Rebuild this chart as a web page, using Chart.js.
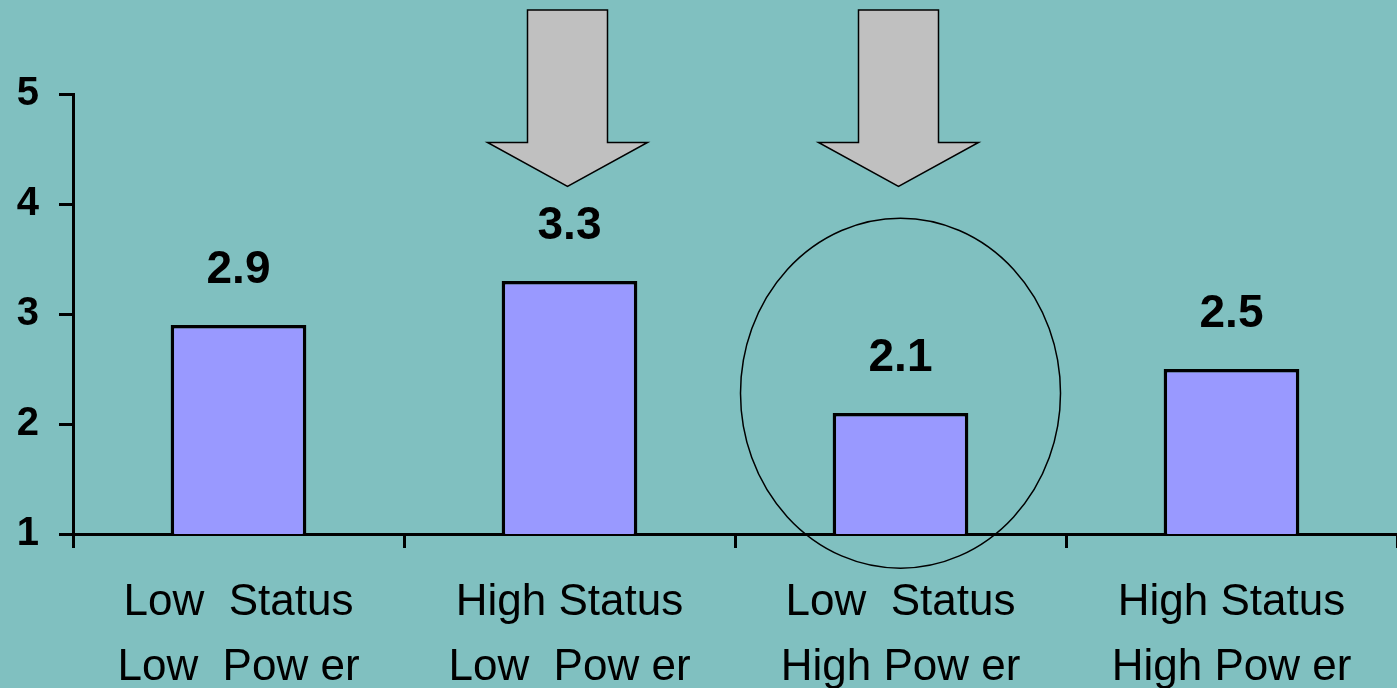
<!DOCTYPE html>
<html>
<head>
<meta charset="utf-8">
<title>Status and Power</title>
<script src="https://cdn.jsdelivr.net/npm/chart.js@4.4.1/dist/chart.umd.min.js"></script>
<style>
    html, body { margin: 0; padding: 0; background: #80c0c0; }
    #wrap { width: 1397px; height: 688px; position: relative; }
</style>
</head>
<body>
<div id="wrap"><canvas id="chart-status-power"></canvas></div>
<script>
/* ── Chart data ── */
var groupLabels = [
    ['Low  Status', 'Low  Pow er'],
    ['High Status', 'Low  Pow er'],
    ['Low  Status', 'High Pow er'],
    ['High Status', 'High Pow er']
];
var groupScores = [2.9, 3.3, 2.1, 2.5];
var yTicks = [1, 2, 3, 4, 5];

// categories that get a callout arrow / the circled one
var arrowGroups = [1, 2];
var circledGroup = 2;

var FONT = '"Liberation Sans", Arial, Helvetica, sans-serif';

/* ── Decoration plugins ── */
var backdropPlugin = {
    id: 'backdrop',
    beforeDraw: function (chart) {
        var ctx = chart.ctx;
        ctx.save();
        ctx.fillStyle = '#80c0c0';
        ctx.fillRect(0, 0, chart.width, chart.height);
        ctx.restore();
    }
};

// bold score printed above each bar
var scoreLabelPlugin = {
    id: 'scoreLabels',
    afterDatasetsDraw: function (chart) {
        var ctx = chart.ctx;
        var meta = chart.getDatasetMeta(0);
        ctx.save();
        ctx.font = 'bold 46px ' + FONT;
        ctx.fillStyle = '#000';
        ctx.textAlign = 'center';
        ctx.textBaseline = 'alphabetic';
        meta.data.forEach(function (bar, i) {
            ctx.fillText(groupScores[i].toFixed(1), bar.x, bar.y - 42);
        });
        ctx.restore();
    }
};

// grey down arrows and the ellipse round one group
var calloutPlugin = {
    id: 'callouts',
    afterDraw: function (chart) {
        var ctx = chart.ctx;
        var x = chart.scales.x;
        var y = chart.scales.y;
        ctx.save();

        arrowGroups.forEach(function (g) {
            var cx = x.getPixelForValue(g) - 2;
            var tip = y.getPixelForValue(4.16);
            var top = 10, headTop = tip - 44, shaft = 40, head = 80;
            ctx.beginPath();
            ctx.moveTo(cx - shaft, top);
            ctx.lineTo(cx + shaft, top);
            ctx.lineTo(cx + shaft, headTop);
            ctx.lineTo(cx + head, headTop);
            ctx.lineTo(cx, tip);
            ctx.lineTo(cx - head, headTop);
            ctx.lineTo(cx - shaft, headTop);
            ctx.closePath();
            ctx.fillStyle = '#c0c0c0';
            ctx.fill();
            ctx.lineWidth = 1.5;
            ctx.strokeStyle = '#000';
            ctx.stroke();
        });

        var ex = x.getPixelForValue(circledGroup);
        var ey = y.getPixelForValue(2.28);
        ctx.beginPath();
        ctx.ellipse(ex, ey, 160, 175, 0, 0, Math.PI * 2);
        ctx.lineWidth = 1.5;
        ctx.strokeStyle = '#000';
        ctx.stroke();

        ctx.restore();
    }
};

/* ── Chart ── */
var ctx = document.getElementById('chart-status-power').getContext('2d');
var statusChart = new Chart(ctx, {
    type: 'bar',
    data: {
        labels: groupLabels,
        datasets: [{
            data: groupScores,
            backgroundColor: '#9999ff',
            borderColor: '#000',
            borderWidth: 3.5,
            borderSkipped: false,
            categoryPercentage: 1,
            barPercentage: 0.41
        }]
    },
    options: {
        responsive: true,
        maintainAspectRatio: false,
        animation: false,
        layout: { padding: { top: 94, right: 0, left: 0, bottom: 0 } },
        plugins: {
            legend: { display: false },
            tooltip: { enabled: false }
        },
        scales: {
            x: {
                afterFit: function (scale) { scale.height = 154; },
                grid: {
                    display: true,
                    drawOnChartArea: false,
                    drawTicks: true,
                    tickLength: 14,
                    color: '#000',
                    lineWidth: 3
                },
                border: { display: true, color: '#000', width: 3 },
                ticks: {
                    color: '#000',
                    font: { family: FONT, size: 44, lineHeight: 1.48 },
                    padding: 22,
                    maxRotation: 0,
                    autoSkip: false
                }
            },
            y: {
                min: 1,
                max: 5,
                afterFit: function (scale) { scale.width = 73; },
                afterBuildTicks: function (scale) {
                    scale.ticks = yTicks.map(function (v) { return { value: v }; });
                },
                grid: {
                    display: true,
                    drawOnChartArea: false,
                    drawTicks: true,
                    tickLength: 14,
                    color: '#000',
                    lineWidth: 3
                },
                border: { display: true, color: '#000', width: 3 },
                ticks: {
                    color: '#000',
                    font: { family: FONT, size: 40, weight: 'bold' },
                    padding: 20
                }
            }
        }
    },
    plugins: [backdropPlugin, scoreLabelPlugin, calloutPlugin]
});
</script>
</body>
</html>
